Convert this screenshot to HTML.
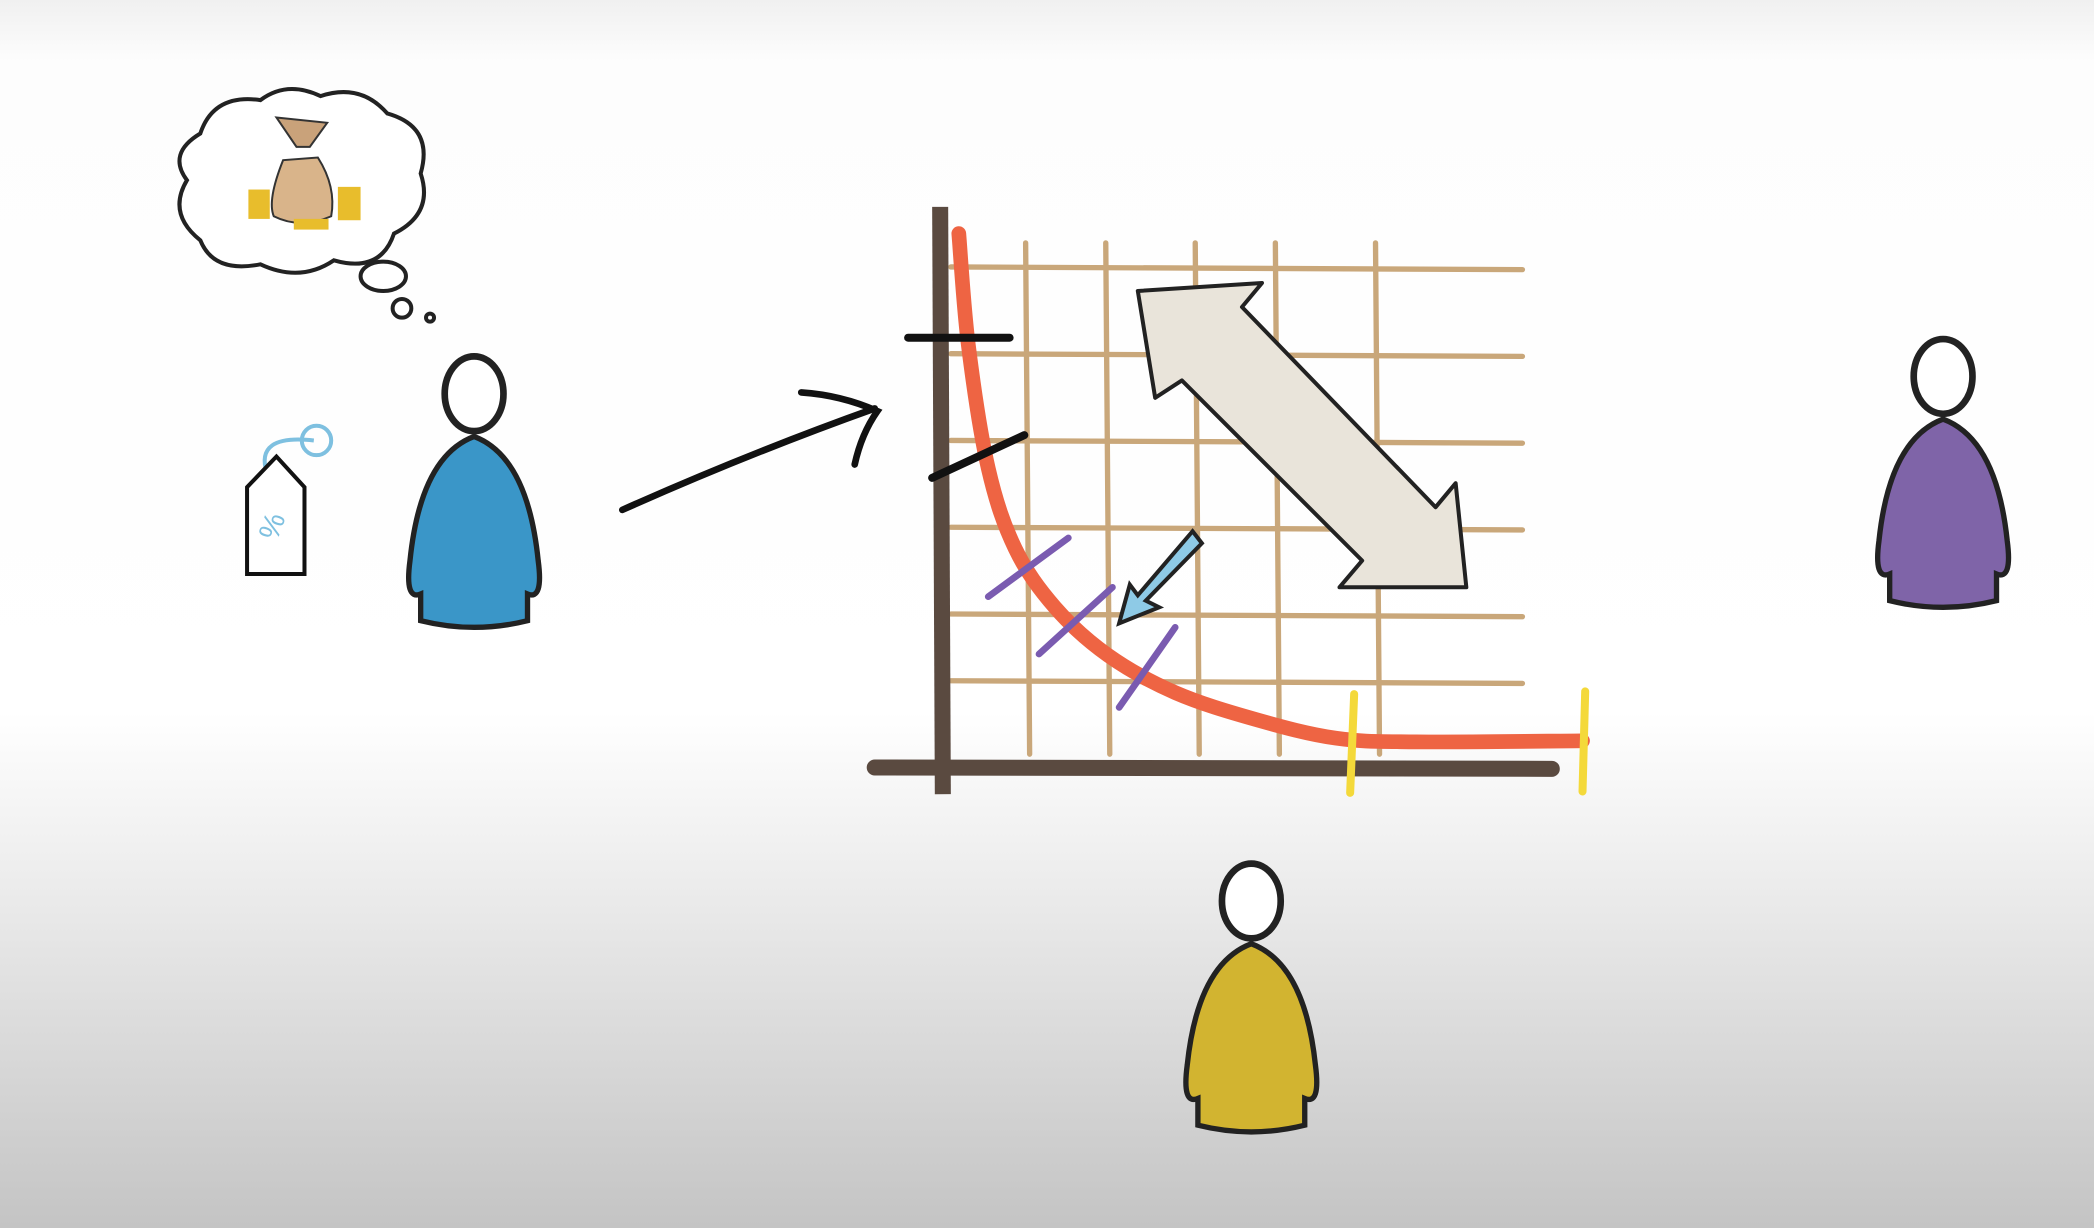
<!DOCTYPE html>
<html><head><meta charset="utf-8"><style>
html,body{margin:0;padding:0;width:2094px;height:1228px;overflow:hidden;background:#fff}
svg{display:block}
</style></head><body>
<svg width="2094" height="1228" viewBox="0 0 1568 920" preserveAspectRatio="none" xmlns="http://www.w3.org/2000/svg">
<defs>
<linearGradient id="bg" x1="0" y1="0" x2="0" y2="1">
<stop offset="0" stop-color="#f0f0f0"/><stop offset="0.05" stop-color="#fdfdfd"/>
<stop offset="0.58" stop-color="#ffffff"/><stop offset="0.72" stop-color="#ececec"/>
<stop offset="1" stop-color="#c4c4c4"/></linearGradient>
</defs>
<rect width="1568" height="920" fill="url(#bg)"/>
<g id="grid" stroke="#c9a77a" stroke-width="4" fill="none" stroke-linecap="round"></g>
<line x1="704" y1="155" x2="706" y2="595" stroke="#5a4a40" stroke-width="12"/>
<line x1="655" y1="575" x2="1162" y2="576" stroke="#5a4a40" stroke-width="12" stroke-linecap="round"/>
<path id="curve" fill="none" stroke="#ee6443" stroke-width="11" stroke-linecap="round"/>
<g stroke="#111" stroke-width="6" stroke-linecap="round">
<line x1="680" y1="253" x2="756" y2="253"/><line x1="698" y1="358" x2="767" y2="326"/></g>
<g stroke="#7a5bb0" stroke-width="5" stroke-linecap="round">
<line x1="740" y1="447" x2="800" y2="403"/><line x1="778" y1="490" x2="833" y2="440"/><line x1="838" y1="530" x2="880" y2="470"/></g>
<g stroke="#f4d93a" stroke-width="6" stroke-linecap="round">
<line x1="1014" y1="520" x2="1011" y2="594"/><line x1="1187" y1="518" x2="1185" y2="593"/></g>
<g fill="none" stroke="#111" stroke-width="5" stroke-linecap="round">
<path d="M466 382 Q560 340 655 306"/><path d="M600 294 Q630 296 657 308 Q645 325 640 348"/></g>
<g stroke="#222" stroke-width="3" stroke-linejoin="round">
<polygon points="852,218 945,212 930,230 1075,380 1090,362 1098,440 1003,440 1020,420 885,285 865,298" fill="#e9e4da"/></g>
<polygon points="893,398 900,407 858,450 868,455 838,467 846,438 852,446" fill="#8ecae6" stroke="#222" stroke-width="3"/>
<g fill="#fff" stroke="#222" stroke-width="3">
<path d="M150 100 Q160 70 195 75 Q215 60 240 72 Q270 62 290 85 Q325 95 315 130 Q325 160 295 175 Q285 205 250 195 Q225 212 195 198 Q160 205 150 180 Q125 160 140 135 Q125 115 150 100Z"/>
<ellipse cx="287" cy="207" rx="17" ry="11"/><circle cx="301" cy="231" r="7"/><circle cx="322" cy="238" r="3"/></g>
<g>
<path d="M212 120 Q200 150 205 162 Q225 172 248 162 Q252 140 238 118 Z" fill="#d9b48a" stroke="#333" stroke-width="1.5"/>
<path d="M207 88 L245 92 L232 110 L222 110 Z" fill="#c9a27a" stroke="#333" stroke-width="1.5"/>
<g fill="#e8bd2c"><rect x="186" y="142" width="16" height="22"/><rect x="253" y="140" width="17" height="25"/><rect x="220" y="164" width="26" height="8"/></g></g>
<g>
<path d="M200 355 Q190 325 235 330" fill="none" stroke="#7ec0e0" stroke-width="3"/>
<circle cx="237" cy="330" r="11" fill="none" stroke="#7ec0e0" stroke-width="3"/>
<path d="M185 365 L207 342 L228 365 L228 430 L185 430 Z" fill="#fff" stroke="#111" stroke-width="3"/>
<text x="206" y="400" font-family="Liberation Sans, sans-serif" font-size="22" fill="#7ec0e0" text-anchor="middle" transform="rotate(-70 206 395)">%</text></g>
<g id="people"></g>
</svg>
<script>
const gridXs=[768,828,895,955,1030];
const gridYs=[200,265,330,395,460,510];
const curveX=[0.27,0.42,0.73,1.15,1.77,2.6,3.65,4.9,6.15,7.4,10];
const curveY=[10,7.9,5.6,4.1,3.0,2.1,1.4,0.9,0.55,0.48,0.5];
const sx=v=>705+v*48, sy=v=>575-v*40;
const NS="http://www.w3.org/2000/svg";
const grid=document.getElementById('grid');
gridXs.forEach(x=>{const l=document.createElementNS(NS,'line');


l.setAttribute('x1',x);l.setAttribute('y1',182);l.setAttribute('x2',x+3);l.setAttribute('y2',565);grid.appendChild(l);});
gridYs.forEach(y=>{const l=document.createElementNS(NS,'line');


l.setAttribute('x1',712);l.setAttribute('y1',y);l.setAttribute('x2',1140);l.setAttribute('y2',y+2);grid.appendChild(l);});
const P=curveX.map((v,i)=>[sx(v),sy(curveY[i])]);
let d='M'+P[0][0]+' '+P[0][1];
for(let i=0;i<P.length-1;i++){const p0=P[Math.max(0,i-1)],p1=P[i],p2=P[i+1],p3=P[Math.min(P.length-1,i+2)];
d+=` C${p1[0]+(p2[0]-p0[0])/6} ${p1[1]+(p2[1]-p0[1])/6} ${p2[0]-(p3[0]-p1[0])/6} ${p2[1]-(p3[1]-p1[1])/6} ${p2[0]} ${p2[1]}`;}
document.getElementById('curve').setAttribute('d',d);
const people=[[355,295,470,'#3a96c8','blue-person'],[1455,282,455,'#7f64a8','purple-person'],[937,675,848,'#d2b430','yellow-person']];
const pg=document.getElementById('people');
people.forEach(([cx,hy,by,col,name])=>{const g=document.createElementNS(NS,'g');


const top=hy+32;
g.innerHTML=`<path d="M${cx} ${top} Q${cx-40} ${top+15} ${cx-48} ${by-50} Q${cx-52} ${by-20} ${cx-40} ${by-25} L${cx-40} ${by-5} Q${cx} ${by+5} ${cx+40} ${by-5} L${cx+40} ${by-25} Q${cx+52} ${by-20} ${cx+48} ${by-50} Q${cx+40} ${top+15} ${cx} ${top}Z" fill="${col}" stroke="#222" stroke-width="4"/><ellipse cx="${cx}" cy="${hy}" rx="22" ry="28" fill="#fff" stroke="#222" stroke-width="5"/>`;
pg.appendChild(g);});
</script>
</body></html>
